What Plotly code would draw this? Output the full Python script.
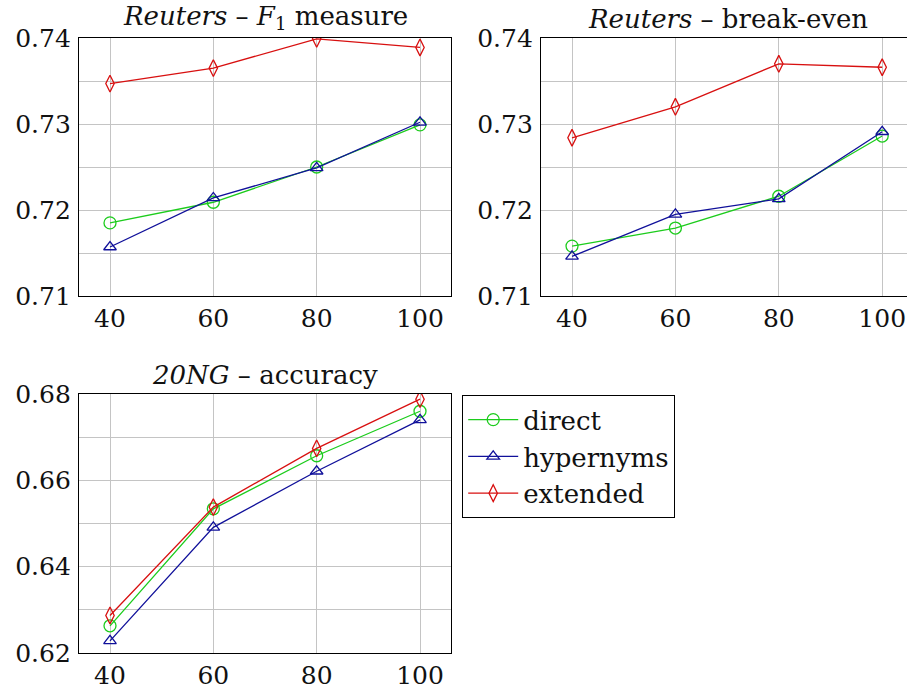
import plotly.graph_objects as go

x_vals = [40, 60, 80, 100]

# Reuters - F1 measure
f1_direct = [0.7185, 0.7209, 0.7250, 0.7299]
f1_hyper = [0.7157, 0.7214, 0.7249, 0.7302]
f1_ext = [0.7347, 0.7365, 0.7399, 0.7389]

# Reuters - break-even
be_direct = [0.7158, 0.7179, 0.7216, 0.7286]
be_hyper = [0.7146, 0.7195, 0.7213, 0.7291]
be_ext = [0.7284, 0.7320, 0.7370, 0.7366]

# 20NG - accuracy
ng_direct = [0.6263, 0.6534, 0.6657, 0.6760]
ng_hyper = [0.6228, 0.6491, 0.6621, 0.6740]
ng_ext = [0.6287, 0.6538, 0.6674, 0.6788]

series_names = ["direct", "hypernyms", "extended"]
colors = ["#1ccc1c", "#10109a", "#d81010"]
symbols = ["circle-open", "triangle-up-open", "diamond-tall-open"]
msizes = [12, 11, 12]

W, H = 907, 690
FONT = "DejaVu Serif"

fig = go.Figure()

panels = [
    ("x", "y", [f1_direct, f1_hyper, f1_ext]),
    ("x2", "y2", [be_direct, be_hyper, be_ext]),
    ("x3", "y3", [ng_direct, ng_hyper, ng_ext]),
]
for pi, (xa, ya, data) in enumerate(panels):
    for si, ys in enumerate(data):
        fig.add_trace(go.Scatter(
            x=x_vals, y=ys, xaxis=xa, yaxis=ya, mode="lines+markers",
            name=series_names[si], showlegend=(pi == 0),
            line=dict(color=colors[si], width=1.3),
            marker=dict(symbol=symbols[si], size=msizes[si], color=colors[si],
                        line=dict(width=1.3, color=colors[si])),
        ))

def px(v):
    return v / W

def py(v):
    return 1 - v / H

grid = "#c4c4c4"
xcommon = dict(tickvals=x_vals, ticks="", showgrid=True, gridcolor=grid, gridwidth=1,
               showline=True, linecolor="black", linewidth=1.2, mirror=True,
               zeroline=False, automargin=False,
               tickfont=dict(family=FONT, size=25, color="#111"),
               ticklabelstandoff=0)
ycommon = dict(ticks="", showgrid=True, gridcolor=grid, gridwidth=1,
               showline=True, linecolor="black", linewidth=1.2, mirror=True,
               zeroline=False, automargin=False,
               tickfont=dict(family=FONT, size=25, color="#111"),
               ticklabelstandoff=2)

fig.update_layout(
    template="none",
    width=W, height=H, margin=dict(l=0, r=0, t=0, b=0, autoexpand=False),
    paper_bgcolor="white", plot_bgcolor="white",
    xaxis=dict(domain=[px(79), px(451)], range=[34, 106], anchor="y", **xcommon),
    yaxis=dict(domain=[py(296), py(38)], range=[0.71, 0.74], anchor="x",
               tickvals=[0.71, 0.72, 0.73, 0.74], tickformat=".2f",
               minor=dict(dtick=0.005, tick0=0.71, showgrid=True, gridcolor=grid, gridwidth=1),
               **ycommon),
    xaxis2=dict(domain=[px(541), 1.0], range=[34, 104.8], anchor="y2", **xcommon),
    yaxis2=dict(domain=[py(296), py(38)], range=[0.71, 0.74], anchor="x2",
                tickvals=[0.71, 0.72, 0.73, 0.74], tickformat=".2f",
                minor=dict(dtick=0.005, tick0=0.71, showgrid=True, gridcolor=grid, gridwidth=1),
                **ycommon),
    xaxis3=dict(domain=[px(79), px(451)], range=[34, 106], anchor="y3", **xcommon),
    yaxis3=dict(domain=[py(653), py(394)], range=[0.62, 0.68], anchor="x3",
                tickvals=[0.62, 0.64, 0.66, 0.68], tickformat=".2f",
                minor=dict(dtick=0.01, tick0=0.62, showgrid=True, gridcolor=grid, gridwidth=1),
                **ycommon),
    legend=dict(x=px(462), y=py(395), xanchor="left", yanchor="top",
                bordercolor="black", borderwidth=1.2, bgcolor="white",
                font=dict(family=FONT, size=26, color="#111"),
                itemwidth=50, tracegroupgap=0),
    font=dict(family=FONT, color="#111"),
)

titles = [
    ("<i>Reuters</i> – <i>F</i><sub>1</sub> measure", 265, 18),
    ("<i>Reuters</i> – break-even", 728, 19),
    ("<i>20NG</i> – accuracy", 265, 375),
]
for t, cx, cy in titles:
    fig.add_annotation(text=t, xref="paper", yref="paper", x=px(cx), y=py(cy),
                       xanchor="center", yanchor="middle", showarrow=False,
                       font=dict(family=FONT, size=26, color="#111"))

fig.write_html("out.html")
